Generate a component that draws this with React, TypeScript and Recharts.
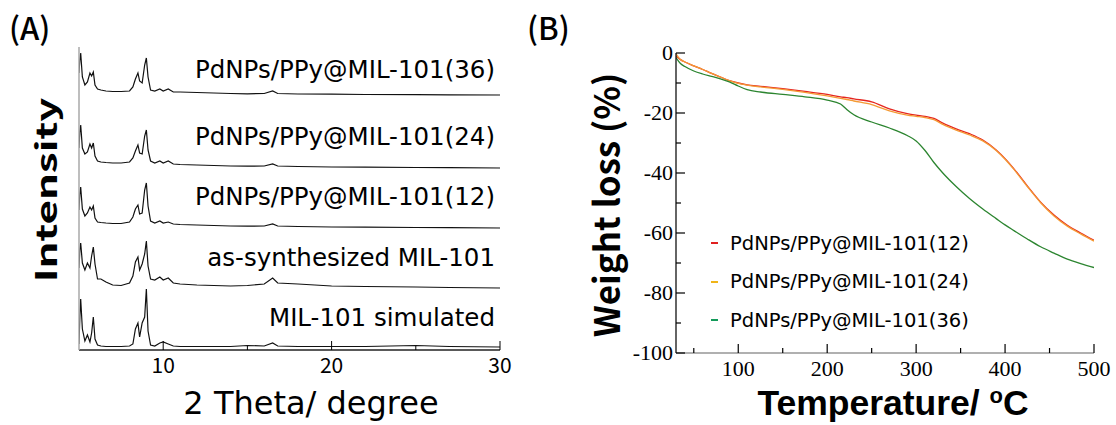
import { Legend, Line, LineChart, XAxis, YAxis } from "recharts";

// (A) XRD: shared 2-theta grid, relative intensities (a.u.) per pattern
const twoTheta = [
  5.0, 5.05, 5.1, 5.2, 5.35, 5.5, 5.65, 5.75, 5.85, 5.95, 6.1, 6.3, 6.6, 7.0, 7.5,
  8.0, 8.2, 8.35, 8.5, 8.6, 8.75, 8.9, 9.0, 9.1, 9.25, 9.5, 9.8, 10.0, 10.3, 10.6,
  11, 12, 13, 14, 15, 16, 16.5, 16.8, 18, 20, 22, 25, 27, 30,
];
const xrdSimulated = [
  3, 30, 48, 18, 6, 12, 5, 14, 30, 8, 2, 1, 0.5, 0.5, 0.5,
  1, 3, 18, 24, 10, 24, 30, 58, 16, 2, 1, 4, 5, 3, 1,
  0.5, 0.5, 0.5, 0.5, 1.5, 1, 4, 1, 0.5, 0.5, 0.5, 1.5, 0.5, 0,
];
const xrdAsSynth = [
  20, 38, 45, 25, 18, 25, 20, 32, 41, 24, 9, 9, 6, 3, 2.5,
  5, 12, 26, 31, 18, 24, 34, 47, 22, 9, 8, 11, 8, 10, 5,
  4, 3, 2.5, 2, 2.5, 4, 10, 5, 4, 2, 1.5, 1, 0.5, 0,
];
const xrd12 = [
  18, 34, 41, 19, 12, 15, 21, 18, 22, 10, 6, 5.5, 5, 4.5, 4.5,
  6, 11, 19, 23, 14, 15, 38, 45, 22, 7, 5, 7, 5, 6, 4,
  3.5, 3, 2.5, 2, 1.8, 2, 4, 2, 1.5, 1, 0.8, 0.5, 0.3, 0,
];
const xrd24 = [
  20, 36, 43, 20, 14, 16, 24, 20, 25, 12, 7, 6, 5.5, 5, 5,
  6, 10, 17, 23, 15, 14, 32, 38, 18, 7, 5, 7, 5, 7, 4,
  3.5, 3, 2.5, 2, 1.8, 2, 4, 2, 1.5, 1, 0.8, 0.5, 0.3, 0,
];
const xrd36 = [
  22, 35, 42, 18, 10, 13, 22, 19, 23, 10, 6, 5, 4, 3.5, 3.5,
  4, 8, 16, 22, 14, 12, 30, 37, 18, 5, 4, 6, 4, 6, 3,
  3, 2.5, 2, 1.5, 1.2, 1.5, 4, 1.5, 1, 0.8, 0.5, 0.3, 0.2, 0,
];
const xrdNames = [
  "MIL-101 simulated",
  "as-synthesized MIL-101",
  "PdNPs/PPy@MIL-101(12)",
  "PdNPs/PPy@MIL-101(24)",
  "PdNPs/PPy@MIL-101(36)",
];
const xrdOffsets = [3, 62, 122, 182, 255];
const xrdTicks = [10, 15, 20, 25, 30];

// (B) TGA
const temperature = [
  30, 35, 40, 50, 60, 70, 80, 90, 100, 110, 125, 150, 175, 200, 215, 222, 230, 250,
  270, 290, 300, 310, 320, 330, 345, 360, 375, 390, 400, 410, 425, 440, 455, 470, 485, 500,
];
const weight12 = [
  -1.0, -2.2, -3.0, -4.3, -5.5, -6.8, -8.0, -9.2, -10.0, -10.6, -11.1, -11.9, -12.8, -13.8, -14.6, -14.9, -15.3, -16.3,
  -18.6, -20.2, -20.7, -21.1, -21.8, -23.4, -25.3, -26.9, -29.0, -32.3, -35.2, -38.6, -44.3, -49.7, -54.0, -57.4, -60.0, -62.4,
];
const weight24 = [
  -0.3, -2.2, -3.0, -4.3, -5.5, -6.8, -8.0, -9.2, -10.1, -10.7, -11.3, -12.1, -13.1, -14.3, -15.1, -15.5, -16.0, -17.2,
  -19.3, -20.7, -21.1, -21.5, -22.2, -23.8, -25.7, -27.3, -29.3, -32.5, -35.4, -38.8, -44.5, -49.9, -54.3, -57.7, -60.3, -62.7,
];
const weight36 = [
  -1.5, -3.5, -4.5, -6.0, -7.0, -7.8, -8.6, -9.6, -11.0, -12.2, -13.0, -13.8, -14.6, -15.7, -17.0, -18.8, -20.6, -23.0,
  -25.0, -27.5, -29.3, -32.5, -36.5, -40.0, -44.5, -48.5, -52.0, -55.2, -57.3, -59.2, -62.0, -64.6, -66.7, -68.7, -70.2, -71.5,
];
const tgaNames = ["PdNPs/PPy@MIL-101(12)", "PdNPs/PPy@MIL-101(24)", "PdNPs/PPy@MIL-101(36)"];
const tgaColors = ["#e5261f", "#f49a34", "#2c8530"];
const tgaLegendColors = ["#e02020", "#f0b418", "#139a5a"];
const tgaXTicks = [50, 100, 150, 200, 250, 300, 350, 400, 450, 500];
const tgaYTicks = [-100, -90, -80, -70, -60, -50, -40, -30, -20, -10, 0];

const jp = "'Noto Sans CJK JP', 'Noto Sans', sans-serif";
const wide = "'DejaVu Sans', 'Noto Sans', sans-serif";
const serif = "'Liberation Serif', 'Times New Roman', serif";
const arial = "'Liberation Sans', Arial, sans-serif";

const xrdSeries = [xrdSimulated, xrdAsSynth, xrd12, xrd24, xrd36].map((vals, i) => ({
  name: xrdNames[i],
  data: twoTheta.map((x, j) => ({ x, y: vals[j] + xrdOffsets[i] })),
}));

const tgaSeries = [weight12, weight24, weight36].map((vals, i) => ({
  name: tgaNames[i],
  color: tgaColors[i],
  data: temperature.map((x, j) => ({ x, y: vals[j] })),
}));

// label y positions (px) for the XRD pattern names
const xrdLabelTop = [318, 258, 197, 137, 70];

const XrdTick = (props: any) => {
  const { x, y, payload } = props;
  const major = payload.value % 10 === 0;
  return (
    <g>
      <line x1={x} x2={x} y1={y} y2={y - (major ? 9 : 4)} stroke="#000" strokeWidth={1} />
      {major && (
        <text x={x} y={y + 23} textAnchor="middle" fontFamily={jp} fontSize={21} fill="#000">
          {payload.value}
        </text>
      )}
    </g>
  );
};

const TgaXTick = (props: any) => {
  const { x, y, payload } = props;
  const major = payload.value % 100 === 0;
  return (
    <g>
      <line x1={x} x2={x} y1={y} y2={y - (major ? 9 : 5)} stroke="#000" strokeWidth={1.2} />
      {major && (
        <text x={x} y={y + 23} textAnchor="middle" fontFamily={serif} fontSize={22} fill="#000">
          {payload.value}
        </text>
      )}
    </g>
  );
};

const TgaYTick = (props: any) => {
  const { x, y, payload } = props;
  const major = payload.value % 20 === 0;
  return (
    <g>
      <line x1={x} x2={x + (major ? 9 : 5)} y1={y} y2={y} stroke="#000" strokeWidth={1.2} />
      {major && (
        <text x={x - 3} y={y + 7} textAnchor="end" fontFamily={serif} fontSize={22} fill="#000">
          {payload.value}
        </text>
      )}
    </g>
  );
};

const TgaLegend = (props: any) => {
  const { payload } = props;
  return (
    <div>
      {(payload || []).map((item: any, i: number) => (
        <div
          key={item.value}
          style={{ display: "flex", alignItems: "center", height: 38.5, fontFamily: wide, fontSize: 19.5, color: "#000", whiteSpace: "nowrap" }}
        >
          <span style={{ display: "inline-block", width: 7, height: 2, background: tgaLegendColors[i] || item.color, marginRight: 12 }} />
          {item.value}
        </div>
      ))}
    </div>
  );
};

const abs = (left: number, top: number, extra: any = {}) => ({
  position: "absolute" as const,
  left,
  top,
  whiteSpace: "nowrap" as const,
  lineHeight: 1.2,
  color: "#000",
  ...extra,
});

export default function App() {
  return (
    <div style={{ position: "absolute", left: 0, top: 0, width: 1116, height: 425, background: "#fff", overflow: "hidden" }}>
      {/* (A) XRD */}
      <div style={{ position: "absolute", left: 0, top: 0 }}>
        <LineChart width={520} height={425} margin={{ top: 47, right: 20, bottom: 45, left: 69 }}>
          <XAxis
            type="number"
            dataKey="x"
            domain={[5, 30]}
            ticks={xrdTicks}
            allowDataOverflow
            height={30}
            axisLine={{ stroke: "#222", strokeWidth: 1.5 }}
            tickLine={false}
            tickSize={0}
            tickMargin={0}
            tick={<XrdTick />}
          />
          <YAxis
            type="number"
            domain={[0, 303]}
            width={10}
            tick={false}
            tickLine={false}
            axisLine={{ stroke: "#a8a8a8", strokeWidth: 1.5 }}
          />
          {xrdSeries.map((s) => (
            <Line
              key={s.name}
              data={s.data}
              dataKey="y"
              name={s.name}
              type="linear"
              stroke="#111"
              strokeWidth={1.2}
              dot={false}
              isAnimationActive={false}
            />
          ))}
        </LineChart>
      </div>
      {xrdNames.map((n, i) => (
        <div key={n} style={abs(0, xrdLabelTop[i], { width: 495, textAlign: "right", fontFamily: wide, fontSize: 24.5, transform: "translateY(-50%)" })}>
          {n}
        </div>
      ))}
      <div style={abs(9, 8, { fontFamily: jp, fontSize: 31, fontWeight: 500 })}>(A)</div>
      <div style={abs(44, 190, { fontFamily: jp, fontSize: 29, fontWeight: 700, transform: "translate(-50%, -50%) rotate(-90deg) scaleX(1.45)" })}>
        Intensity
      </div>
      <div style={abs(311, 403, { fontFamily: wide, fontSize: 32, transform: "translate(-50%, -50%)" })}>
        2 Theta/ degree
      </div>

      {/* (B) TGA */}
      <div style={{ position: "absolute", left: 560, top: 0 }}>
        <LineChart width={556} height={425} margin={{ top: 53, right: 22, bottom: 42, left: 106 }}>
          <XAxis
            type="number"
            dataKey="x"
            domain={[30, 500]}
            ticks={tgaXTicks}
            allowDataOverflow
            height={30}
            axisLine={{ stroke: "#b0b0b0", strokeWidth: 2 }}
            tickLine={false}
            tickSize={0}
            tickMargin={0}
            tick={<TgaXTick />}
          />
          <YAxis
            type="number"
            domain={[-100, 0]}
            ticks={tgaYTicks}
            allowDataOverflow
            width={10}
            axisLine={{ stroke: "#111", strokeWidth: 1.3 }}
            tickLine={false}
            tickSize={0}
            tickMargin={0}
            tick={<TgaYTick />}
          />
          <Legend
            layout="vertical"
            align="center"
            verticalAlign="middle"
            wrapperStyle={{ left: 151, top: 224, width: 300 }}
            content={<TgaLegend />}
          />
          {tgaSeries.map((s) => (
            <Line
              key={s.name}
              data={s.data}
              dataKey="y"
              name={s.name}
              type="monotone"
              stroke={s.color}
              strokeWidth={1.3}
              dot={false}
              isAnimationActive={false}
            />
          ))}
        </LineChart>
      </div>
      <div style={abs(527, 8, { fontFamily: jp, fontSize: 31, fontWeight: 500 })}>(B)</div>
      <div style={abs(605, 205, { fontFamily: jp, fontSize: 35, fontWeight: 700, transform: "translate(-50%, -50%) rotate(-90deg)" })}>
        Weight loss (%)
      </div>
      <div style={abs(893, 384, { fontFamily: arial, fontSize: 35.5, fontWeight: 700, lineHeight: 1.12, transform: "translateX(-50%)" })}>
        Temperature/ <span style={{ fontSize: 22, verticalAlign: "top", position: "relative", top: 0 }}>o</span>C
      </div>
    </div>
  );
}
